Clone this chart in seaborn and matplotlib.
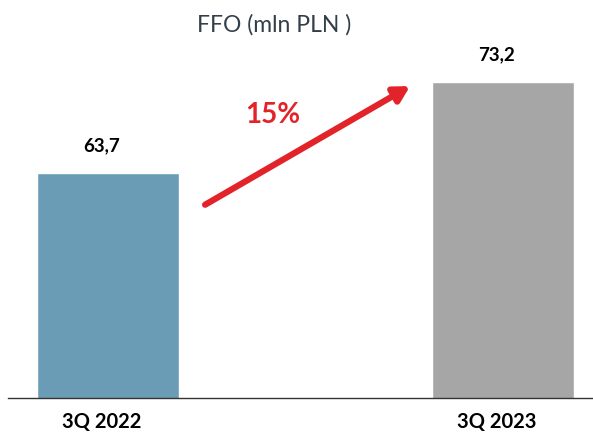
import matplotlib
matplotlib.use("Agg")
import pandas as pd
import seaborn as sns
import matplotlib.pyplot as plt
from matplotlib.transforms import ScaledTranslation

# values
periods = ["3Q 2022", "3Q 2023"]
ffo = [63.7, 73.2]
labels = ["63,7", "73,2"]
bar_colors = ["#6A9DB5", "#A6A6A6"]
change_label = "15%"

df = pd.DataFrame({"period": periods, "ffo": ffo})

sns.set_style("white")
plt.rcParams["font.family"] = ["Lato", "DejaVu Sans"]

fig = plt.figure(figsize=(5.93, 4.33), dpi=100)
ax = fig.add_axes([8 / 593, 35 / 433, 585 / 593, 398 / 433])

sns.barplot(data=df, x="period", y="ffo", hue="period", palette=bar_colors,
            width=0.36, saturation=1, legend=False, ax=ax)

ax.set_ylim(40.2, 81.8)
ax.set_xlim(-0.253, 1.228)

# value labels sit a little left of the bar centres on the slide
for bar, lab in zip(ax.patches, labels):
    ax.annotate(lab, (bar.get_x() + bar.get_width() / 2, bar.get_height()),
                xytext=(-4.5, 13.5), textcoords="offset points",
                ha="center", va="bottom", fontsize=13.5, fontweight="bold", color="black")

# growth arrow
ax.annotate("", xy=(0.765, 72.8), xytext=(0.246, 60.4),
            arrowprops=dict(arrowstyle="-|>,head_length=0.9,head_width=0.5",
                            color="#E3232A", lw=4.5, shrinkA=0, shrinkB=0))
ax.text(0.418, 69.8, change_label, color="#E3232A", fontsize=20, fontweight="bold",
        ha="center", va="center")

sns.despine(ax=ax, left=True, top=True, right=True)
ax.spines["bottom"].set_color("#333333")
ax.spines["bottom"].set_linewidth(1.0)
ax.set_yticks([])
ax.set_xlabel("")
ax.set_ylabel("")
ax.tick_params(axis="x", length=0, pad=10)
shift = ScaledTranslation(-6 / 100, 0, fig.dpi_scale_trans)
for t in ax.get_xticklabels():
    t.set_fontweight("bold")
    t.set_fontsize(14.5)
    t.set_color("black")
    t.set_transform(t.get_transform() + shift)

fig.text(274 / 593, 1 - 25 / 433, "FFO (mln PLN )", ha="center", va="center",
         fontsize=16.5, color="#333F48")

fig.savefig("out.png", dpi=100)
